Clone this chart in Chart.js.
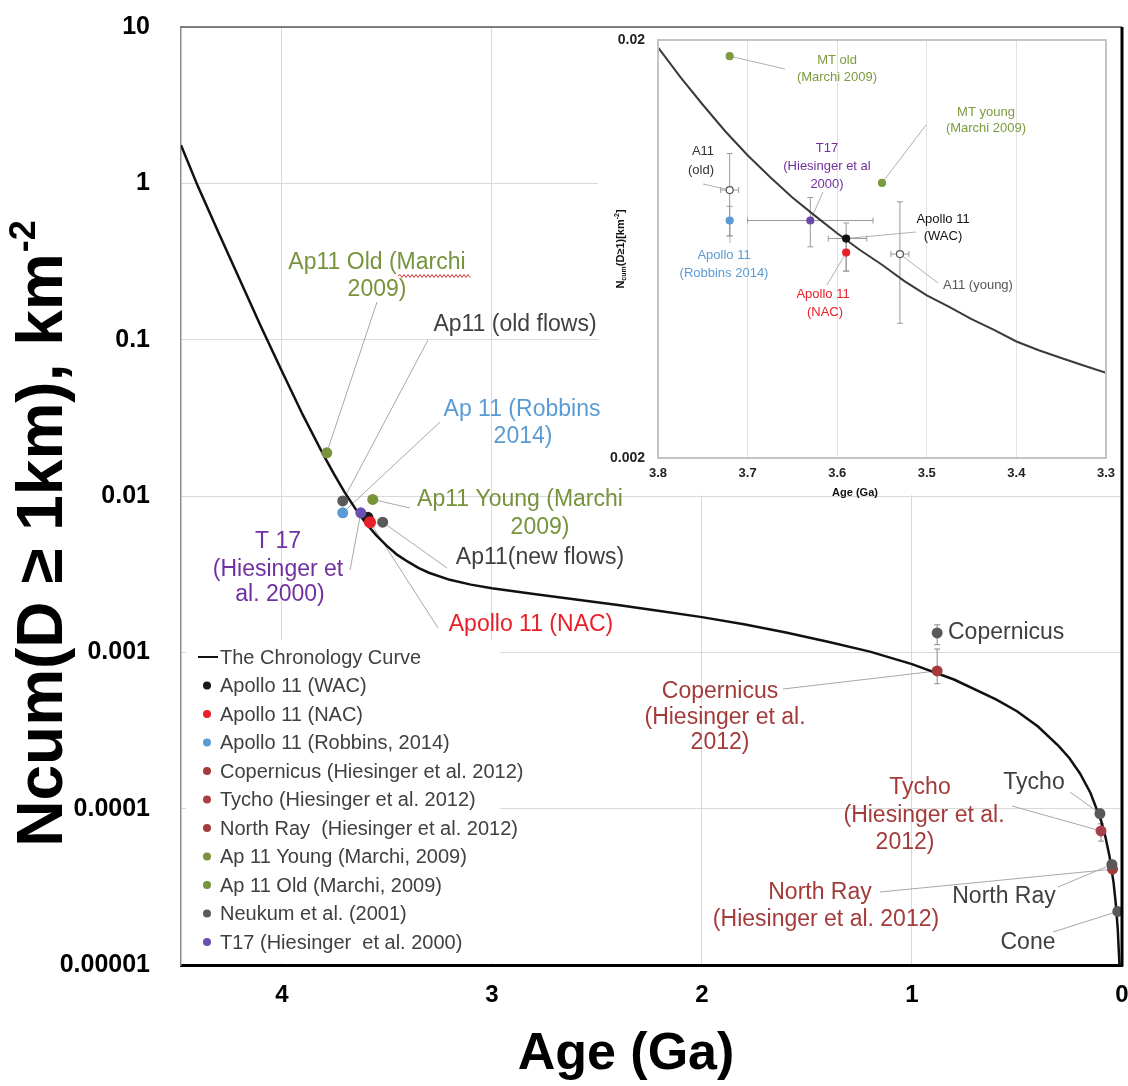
<!DOCTYPE html>
<html><head><meta charset="utf-8">
<script src="https://cdn.jsdelivr.net/npm/chart.js@4.4.1/dist/chart.umd.min.js"></script>
<style>
html,body{margin:0;padding:0;background:#fff;}
#wrap{position:relative;width:1128px;height:1086px;overflow:hidden;}
#main{position:absolute;left:0;top:0;}
#inset{position:absolute;left:598px;top:28px;}
</style></head><body>
<div id="wrap"><canvas id="main" width="1128" height="1086"></canvas><canvas id="inset" width="521" height="470"></canvas></div>
<script>
// ===================== DATA =====================
const yTickValues = [0.00001, 0.0001, 0.001, 0.01, 0.1, 1, 10];
const yTickLabels = ["0.00001", "0.0001", "0.001", "0.01", "0.1", "1", "10"];
const xTickValues = [0, 1, 2, 3, 4];
const xTickLabels = ["0", "1", "2", "3", "4"];

// The chronology curve (age Ga, Ncum km^-2)
const curveAge = [4.48,4.4,4.3,4.2,4.1,4.0,3.9,3.8,3.75,3.7,3.65,3.6,3.55,3.5,3.45,3.4,3.35,3.3,3.2,3.1,3.0,2.8,2.6,2.4,2.2,2.0,1.8,1.6,1.4,1.2,1.0,0.8,0.6,0.5,0.4,0.3,0.25,0.2,0.15,0.1,0.08,0.06,0.04,0.03,0.02,0.012];
const curveN   = [1.75,0.96,0.48,0.242,0.122,0.063,0.033,0.0181,0.0137,0.0105,0.0083,0.0067,0.0056,0.0048,0.0042,0.0038,0.00347,0.00323,0.00291,0.00271,0.00257,0.00236,0.00218,0.00201,0.00184,0.00168,0.00151,0.00134,0.00117,0.00101,0.00084,0.00067,0.0005,0.00042,0.000335,0.00025,0.00021,0.000168,0.000126,0.000084,0.000067,0.00005,0.0000335,0.000025,0.0000168,0.00001];

const wacAge = [3.59];   const wacN = [0.0073];
const nacAge = [3.58];   const nacN = [0.0068];
const robbinsAge = [3.71]; const robbinsN = [0.0078];
const copHAge = [0.88];  const copHN = [0.00076]; const copHLow = [0.00063]; const copHHigh = [0.00105];
const tychoHAge = [0.10]; const tychoHN = [0.000072]; const tychoHLow = [0.000062]; const tychoHHigh = [0.00008];
const northRayHAge = [0.045]; const northRayHN = [0.000041];
const marchiYoungAge = [3.567]; const marchiYoungN = [0.0095];
const marchiOldAge = [3.786];   const marchiOldN = [0.0189];
// Neukum et al. (2001): old flows, new flows, Copernicus, Tycho, North Ray, Cone
const neukumAge = [3.71, 3.52, 0.88, 0.105, 0.048, 0.02];
const neukumN   = [0.0093, 0.0068, 0.00133, 0.000093, 0.000044, 0.000022];
const neukumLow  = [null, null, 0.00112, null, null, null];
const neukumHigh = [null, null, 0.0015, null, null, null];
const t17Age = [3.624]; const t17N = [0.0078];

// Inset
const insetXTicks = [3.3, 3.4, 3.5, 3.6, 3.7, 3.8];
const insetXTickLabels = ["3.3", "3.4", "3.5", "3.6", "3.7", "3.8"];
const insetYTicks = [0.002, 0.02];
const insetYTickLabels = ["0.002", "0.02"];
const insetCurveAge = [3.8, 3.775, 3.75, 3.725, 3.7, 3.675, 3.65, 3.625, 3.6, 3.575, 3.55, 3.525, 3.5, 3.475, 3.45, 3.425, 3.4, 3.375, 3.35, 3.325, 3.3];
const insetCurveN   = [0.0192, 0.0163, 0.0140, 0.0121, 0.0106, 0.0094, 0.0084, 0.0076, 0.0069, 0.0063, 0.0058, 0.0053, 0.0049, 0.0046, 0.0043, 0.00405, 0.0038, 0.00362, 0.00347, 0.00333, 0.0032];
const insetLabels = ["MT old (Marchi 2009)", "MT young (Marchi 2009)", "A11 (old)", "Apollo 11 (Robbins 2014)", "T17 (Hiesinger et al 2000)", "Apollo 11 (WAC)", "Apollo 11 (NAC)", "A11 (young)"];
const insetAge  = [3.72, 3.55, 3.72, 3.72, 3.63, 3.59, 3.59, 3.53];
const insetN    = [0.0183, 0.0091, 0.00875, 0.0074, 0.0074, 0.0067, 0.0062, 0.00615];
const insetNLow  = [null, null, 0.0068, 0.0068, 0.0064, 0.0056, 0.0056, 0.0042];
const insetNHigh = [null, null, 0.0107, 0.0080, 0.0084, 0.0073, 0.0066, 0.0082];
const insetAgeLow  = [null, null, 3.71, null, 3.56, 3.567, null, 3.52];
const insetAgeHigh = [null, null, 3.73, null, 3.70, 3.61, null, 3.54];

// ===================== STYLE / LAYOUT =====================
const FONT = "'Liberation Sans', Arial, Helvetica, sans-serif";
const C = {green:'#77933c', gray:'#404040', blue:'#5b9bd5', red:'#e8202a', purple:'#7030a0', dred:'#a33b3b'};
function pts(ax, ay){ return ax.map((a,i)=>({x:a, y:ay[i]})); }
function dot(color, r){ return {backgroundColor:color, borderColor:color, pointRadius:r||5.5, pointBorderWidth:0, pointHoverRadius:r||5.5}; }

const mainDatasets = [
  Object.assign({id:'curve', label:'The Chronology Curve', data:pts(curveAge,curveN), showLine:true, borderColor:'#111', backgroundColor:'#111', borderWidth:2.5, pointRadius:0, order:100, legendType:'line'}),
  Object.assign({id:'wac', label:'Apollo 11 (WAC)', data:pts(wacAge,wacN), order:3}, dot('#1a1a1a')),
  Object.assign({id:'nac', label:'Apollo 11 (NAC)', data:pts(nacAge,nacN), order:1}, dot('#e8202a', 6)),
  Object.assign({id:'robbins', label:'Apollo 11 (Robbins, 2014)', data:pts(robbinsAge,robbinsN), order:2}, dot('#5b9bd5')),
  Object.assign({id:'copH', label:'Copernicus (Hiesinger et al. 2012)', data:pts(copHAge,copHN), yLow:copHLow, yHigh:copHHigh, order:2}, dot('#a33b3b')),
  Object.assign({id:'tychoH', label:'Tycho (Hiesinger et al. 2012)', data:pts(tychoHAge,tychoHN), yLow:tychoHLow, yHigh:tychoHHigh, order:2}, dot('#a8404a')),
  Object.assign({id:'northRayH', label:'North Ray  (Hiesinger et al. 2012)', data:pts(northRayHAge,northRayHN), order:4}, dot('#a33b3b')),
  Object.assign({id:'marchiYoung', label:'Ap 11 Young (Marchi, 2009)', data:pts(marchiYoungAge,marchiYoungN), order:2}, dot('#77933c')),
  Object.assign({id:'marchiOld', label:'Ap 11 Old (Marchi, 2009)', data:pts(marchiOldAge,marchiOldN), order:2}, dot('#77933c')),
  Object.assign({id:'neukum', label:'Neukum et al. (2001)', data:pts(neukumAge,neukumN), yLow:neukumLow, yHigh:neukumHigh, order:2}, dot('#595959')),
  Object.assign({id:'t17', label:'T17 (Hiesinger  et al. 2000)', data:pts(t17Age,t17N), order:2}, dot('#6a50b0'))
];

// Main annotations: text lines [text, x, y] (px), leader from px point to a data point [datasetId, index]
const mainNotes = [
  {color:C.green, lines:[["Ap11 Old (Marchi",377,263],["2009)",377,290]], from:[377,302], to:['marchiOld',0], squiggle:[398,470,276]},
  {color:C.gray, lines:[["Ap11 (old flows)",515,325]], from:[428,340], to:['neukum',0]},
  {color:C.blue, lines:[["Ap 11 (Robbins",522,410],["2014)",523,437]], from:[440,422], to:['robbins',0]},
  {color:C.green, lines:[["Ap11 Young (Marchi",520,500],["2009)",540,528]], from:[410,508], to:['marchiYoung',0]},
  {color:C.gray, lines:[["Ap11(new flows)",540,558]], from:[447,568], to:['neukum',1]},
  {color:C.red, lines:[["Apollo 11 (NAC)",531,625]], from:[438,628], to:['nac',0]},
  {color:C.purple, lines:[["T 17",278,542],["(Hiesinger et",278,570],["al. 2000)",280,595]], from:[350,570], to:['t17',0]},
  {color:C.gray, align:'left', lines:[["Copernicus",948,633]]},
  {color:C.dred, lines:[["Copernicus",720,692],["(Hiesinger et al.",725,718],["2012)",720,743]], from:[783,689], to:['copH',0]},
  {color:C.gray, lines:[["Tycho",1034,783]], from:[1070,792], to:['neukum',3]},
  {color:C.dred, lines:[["Tycho",920,788],["(Hiesinger et al.",924,816],["2012)",905,843]], from:[1012,806], to:['tychoH',0]},
  {color:C.dred, lines:[["North Ray",820,893],["(Hiesinger et al. 2012)",826,920]], from:[880,892], to:['northRayH',0]},
  {color:C.gray, lines:[["North Ray",1004,897]], from:[1058,887], to:['neukum',4]},
  {color:C.gray, lines:[["Cone",1028,943]], from:[1053,932], to:['neukum',5]}
];

function dsPixel(chart, id, i){
  const ds = chart.data.datasets.find(d=>d.id===id);
  const p = ds.data[i];
  return [chart.scales.x.getPixelForValue(p.x), chart.scales.y.getPixelForValue(p.y)];
}
function drawLeaders(chart, notes, color){
  const ctx = chart.ctx; ctx.save();
  ctx.strokeStyle = color; ctx.lineWidth = 1;
  for (const n of notes){
    if (!n.from) continue;
    const [tx, ty] = dsPixel(chart, n.to[0], n.to[1]);
    ctx.beginPath(); ctx.moveTo(n.from[0], n.from[1]); ctx.lineTo(tx, ty); ctx.stroke();
  }
  ctx.restore();
}
function drawNotes(chart, notes, size){
  const ctx = chart.ctx; ctx.save();
  ctx.font = `${size}px ${FONT}`; ctx.textBaseline = 'middle';
  for (const n of notes){
    ctx.fillStyle = n.color; ctx.textAlign = n.align || 'center';
    for (const [t,x,y] of n.lines) ctx.fillText(t, x, y);
    if (n.squiggle){
      const [x0,x1,y] = n.squiggle; ctx.strokeStyle = '#e03030'; ctx.lineWidth = 1;
      ctx.beginPath(); let up = true; ctx.moveTo(x0, y);
      for (let x = x0 + 2; x <= x1; x += 2){ ctx.lineTo(x, up ? y - 1.5 : y + 1.5); up = !up; }
      ctx.stroke();
    }
  }
  ctx.restore();
}
function drawErrorBars(chart, color, cap){
  const ctx = chart.ctx; ctx.save();
  ctx.strokeStyle = color; ctx.lineWidth = 1;
  const xs = chart.scales.x, ys = chart.scales.y;
  chart.data.datasets.forEach(ds=>{
    ds.data.forEach((p,i)=>{
      const px = xs.getPixelForValue(p.x), py = ys.getPixelForValue(p.y);
      if (ds.yLow && ds.yLow[i] != null){
        const a = ys.getPixelForValue(ds.yLow[i]), b = ys.getPixelForValue(ds.yHigh[i]);
        ctx.beginPath(); ctx.moveTo(px,a); ctx.lineTo(px,b);
        ctx.moveTo(px-cap,a); ctx.lineTo(px+cap,a); ctx.moveTo(px-cap,b); ctx.lineTo(px+cap,b); ctx.stroke();
      }
      if (ds.xLow && ds.xLow[i] != null){
        const a = xs.getPixelForValue(ds.xLow[i]), b = xs.getPixelForValue(ds.xHigh[i]);
        ctx.beginPath(); ctx.moveTo(a,py); ctx.lineTo(b,py);
        ctx.moveTo(a,py-cap); ctx.lineTo(a,py+cap); ctx.moveTo(b,py-cap); ctx.lineTo(b,py+cap); ctx.stroke();
      }
    });
  });
  ctx.restore();
}

const mainPlugin = {
  id:'mainDecor',
  beforeDatasetsDraw(chart){
    const ctx = chart.ctx;
    ctx.save(); ctx.fillStyle = '#fff';
    ctx.fillRect(598, 28, 523, 467);   // inset background
    ctx.fillRect(186, 640, 314, 323);  // legend background
    ctx.restore();
    drawLeaders(chart, mainNotes, '#a8a8a8');
    drawErrorBars(chart, '#8a8a8a', 3);
  },
  afterDraw(chart){
    const ctx = chart.ctx, a = chart.chartArea;
    // frame
    ctx.save();
    ctx.strokeStyle = '#595959'; ctx.lineWidth = 1.5;
    ctx.beginPath(); ctx.moveTo(a.left, a.top); ctx.lineTo(a.right, a.top); ctx.stroke();
    ctx.strokeStyle = '#000'; ctx.lineWidth = 3;
    ctx.beginPath(); ctx.moveTo(a.right, a.top); ctx.lineTo(a.right, a.bottom + 1.5); ctx.stroke();
    ctx.restore();
    drawNotes(chart, mainNotes, 23);
    // legend
    ctx.save();
    ctx.font = `20px ${FONT}`; ctx.textBaseline = 'middle'; ctx.textAlign = 'left';
    chart.data.datasets.forEach((ds,i)=>{
      const y = 657 + i * 28.5;
      if (ds.legendType === 'line'){
        ctx.strokeStyle = ds.borderColor; ctx.lineWidth = 2;
        ctx.beginPath(); ctx.moveTo(198, y); ctx.lineTo(218, y); ctx.stroke();
      } else {
        ctx.fillStyle = ds.backgroundColor;
        ctx.beginPath(); ctx.arc(207, y, 4, 0, Math.PI*2); ctx.fill();
      }
      ctx.fillStyle = '#404040'; ctx.fillText(ds.label, 220, y + 1);
    });
    ctx.restore();
    // axis titles
    ctx.save();
    ctx.fillStyle = '#000'; ctx.textBaseline = 'middle';
    ctx.font = `bold 52px ${FONT}`; ctx.textAlign = 'center';
    ctx.fillText('Age (Ga)', 626, 1055);
    ctx.translate(44, 534); ctx.rotate(-Math.PI/2);
    const t1 = 'Ncum(D \u2265 1km), km', t2 = '-2';
    ctx.font = `bold 64px ${FONT}`; const w1 = ctx.measureText(t1).width;
    ctx.font = `bold 36px ${FONT}`; const w2 = ctx.measureText(t2).width;
    const x0 = -(w1 + w2) / 2; ctx.textAlign = 'left';
    ctx.font = `bold 64px ${FONT}`; ctx.fillText(t1, x0, 0);
    ctx.font = `bold 36px ${FONT}`; ctx.fillText(t2, x0 + w1 + 1, -19);
    ctx.restore();
  }
};

new Chart(document.getElementById('main'), {
  type:'scatter',
  data:{datasets: mainDatasets},
  options:{
    responsive:false, animation:false, devicePixelRatio:1, events:[],
    layout:{padding:{top:27, right:6, left:0, bottom:0}},
    plugins:{legend:{display:false}, tooltip:{enabled:false}},
    scales:{
      x:{type:'linear', reverse:true, min:0, max:4.48,
        afterBuildTicks: s => { s.ticks = xTickValues.map(v=>({value:v})); },
        afterFit: s => { s.height = 121; s.paddingLeft = 0; s.paddingRight = 0; },
        ticks:{callback:(v,i)=>xTickLabels[i], font:{family:FONT, size:24, weight:'bold'}, color:'#000', padding:16, maxRotation:0, autoSkip:false},
        grid:{color:'#d9d9d9', lineWidth:1, drawTicks:false},
        border:{display:true, color:'#000', width:3}
      },
      y:{type:'logarithmic', min:0.00001, max:10,
        afterBuildTicks: s => { s.ticks = yTickValues.map(v=>({value:v})); },
        afterFit: s => { s.width = 181; s.paddingTop = 0; s.paddingBottom = 0; },
        ticks:{callback:(v,i)=>yTickLabels[i], font:{family:FONT, size:25, weight:'bold'}, color:'#000', padding:31, autoSkip:false},
        grid:{color:'#d9d9d9', lineWidth:1, drawTicks:false},
        border:{display:true, color:'#8c8c8c', width:1.5}
      }
    }
  },
  plugins:[mainPlugin]
});

// ===================== INSET =====================
const insetStyles = [
  {bg:'#7d9b3e', bd:'#7d9b3e'}, {bg:'#7d9b3e', bd:'#7d9b3e'}, {bg:'#ffffff', bd:'#555555'},
  {bg:'#5b9bd5', bd:'#5b9bd5'}, {bg:'#6a4aa8', bd:'#6a4aa8'}, {bg:'#111111', bd:'#111111'},
  {bg:'#e8202a', bd:'#e8202a'}, {bg:'#ffffff', bd:'#555555'}
];
const insetDatasets = [{id:'curve', label:'curve', data:pts(insetCurveAge, insetCurveN), showLine:true, borderColor:'#3a3a3a', borderWidth:2, pointRadius:0, order:100}];
insetLabels.forEach((lab,i)=>{
  insetDatasets.push({id:'p'+i, label:lab, data:[{x:insetAge[i], y:insetN[i]}],
    yLow:[insetNLow[i]], yHigh:[insetNHigh[i]], xLow:[insetAgeLow[i]], xHigh:[insetAgeHigh[i]],
    backgroundColor:insetStyles[i].bg, borderColor:insetStyles[i].bd, pointRadius:3.5, pointBorderWidth:1.2, order:1});
});
const insetNotes = [
  {color:'#7d9b3e', lines:[["MT old",239,32],["(Marchi 2009)",239,49]], from:[187,41], to:['p0',0]},
  {color:'#7d9b3e', lines:[["MT young",388,84],["(Marchi 2009)",388,100]], from:[328,97], to:['p1',0]},
  {color:'#333333', lines:[["A11",105,123],["(old)",103,142]], from:[105,156], to:['p2',0]},
  {color:'#7030a0', lines:[["T17",229,120],["(Hiesinger et al",229,138],["2000)",229,156]], from:[225,164], to:['p4',0]},
  {color:'#111111', lines:[["Apollo 11",345,191],["(WAC)",345,208]], from:[318,204], to:['p5',0]},
  {color:'#5b9bd5', lines:[["Apollo 11",126,227],["(Robbins 2014)",126,245]], from:[132,215], to:['p3',0]},
  {color:'#e8202a', lines:[["Apollo 11",225,266],["(NAC)",227,284]], from:[229,257], to:['p6',0]},
  {color:'#555555', lines:[["A11 (young)",380,257]], from:[340,255], to:['p7',0]}
];
const insetPlugin = {
  id:'insetDecor',
  beforeDatasetsDraw(chart){
    drawLeaders(chart, insetNotes, '#b0b0b0');
    drawErrorBars(chart, '#9a9a9a', 3);
  },
  afterDraw(chart){
    const ctx = chart.ctx, a = chart.chartArea;
    ctx.save();
    ctx.strokeStyle = '#c4c4c4'; ctx.lineWidth = 2;
    ctx.strokeRect(a.left, a.top, a.right - a.left, a.bottom - a.top);
    ctx.restore();
    drawNotes(chart, insetNotes, 13);
    ctx.save();
    ctx.fillStyle = '#111'; ctx.textBaseline = 'middle'; ctx.textAlign = 'center';
    ctx.font = `bold 11px ${FONT}`;
    ctx.fillText('Age (Ga)', 257, 465);
    ctx.translate(23, 221); ctx.rotate(-Math.PI/2);
    const parts = [['N',11,0],['cum',7,3],['(D\u22651)[km',11,0],['-2',7,-4],[']',11,0]];
    let tot = 0; parts.forEach(p=>{ ctx.font = `bold ${p[1]}px ${FONT}`; tot += ctx.measureText(p[0]).width; });
    let x = -tot/2; ctx.textAlign = 'left';
    parts.forEach(p=>{ ctx.font = `bold ${p[1]}px ${FONT}`; ctx.fillText(p[0], x, p[2]); x += ctx.measureText(p[0]).width; });
    ctx.restore();
  }
};
new Chart(document.getElementById('inset'), {
  type:'scatter',
  data:{datasets: insetDatasets},
  options:{
    responsive:false, animation:false, devicePixelRatio:1, events:[],
    layout:{padding:{top:12, right:13, left:0, bottom:0}},
    plugins:{legend:{display:false}, tooltip:{enabled:false}},
    scales:{
      x:{type:'linear', reverse:true, min:3.3, max:3.8,
        afterBuildTicks: s => { s.ticks = insetXTicks.map(v=>({value:v})); },
        afterFit: s => { s.height = 40; s.paddingLeft = 0; s.paddingRight = 0; },
        ticks:{callback:(v,i)=>insetXTickLabels[i], font:{family:FONT, size:13, weight:'bold'}, color:'#222', padding:8, maxRotation:0, autoSkip:false},
        grid:{color:'#e2e2e2', lineWidth:1, drawTicks:false},
        border:{display:false}
      },
      y:{type:'logarithmic', min:0.002, max:0.02,
        afterBuildTicks: s => { s.ticks = insetYTicks.map(v=>({value:v})); },
        afterFit: s => { s.width = 60; s.paddingTop = 0; s.paddingBottom = 0; },
        ticks:{callback:(v,i)=>insetYTickLabels[i], font:{family:FONT, size:14, weight:'bold'}, color:'#222', padding:13, autoSkip:false},
        grid:{color:'#e2e2e2', lineWidth:1, drawTicks:false},
        border:{display:false}
      }
    }
  },
  plugins:[insetPlugin]
});
</script>
</body></html>
